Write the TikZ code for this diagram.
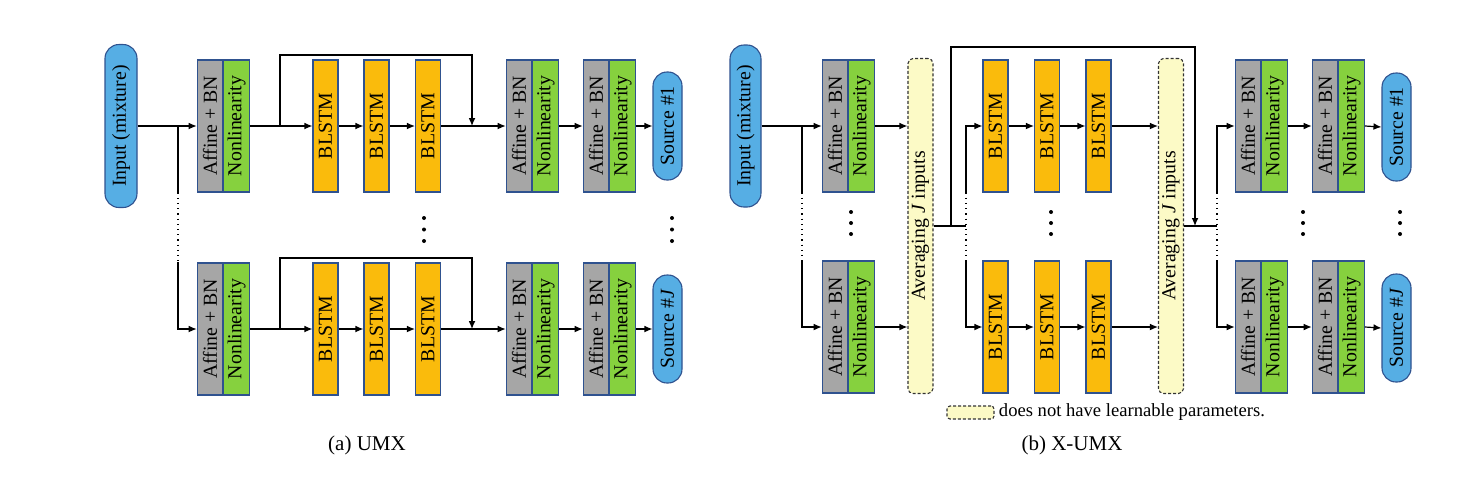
\documentclass[tikz,border=0pt]{standalone}
\usepackage{fontspec}
\setmainfont{Liberation Serif}
\usepackage{graphicx}
\usepackage{tikz}
\usetikzlibrary{arrows.meta,positioning}

\definecolor{pill}{RGB}{86,174,228}
\definecolor{edge}{RGB}{47,82,143}
\definecolor{affgray}{RGB}{166,166,166}
\definecolor{nongreen}{RGB}{134,209,62}
\definecolor{lstmgold}{RGB}{250,187,12}
\definecolor{avgfill}{RGB}{252,250,198}

\begin{document}
\begin{tikzpicture}[x=0.5pt,y=-0.5pt,
    >={Latex[length=4pt,width=3.4pt]},
    every node/.style={font=\fontsize{9.9}{11}\selectfont, inner sep=0pt},
    conn/.style={line width=0.6pt},
    blk/.style={draw=edge, line width=0.55pt, minimum width=12.75pt, minimum height=66pt},
    affbox/.style={blk, fill=affgray},
    nonbox/.style={blk, fill=nongreen},
    lstmbox/.style={blk, fill=lstmgold, minimum width=12.5pt},
    pillbox/.style={draw=edge, fill=pill, line width=0.55pt, rounded corners=7pt},
    avgbox/.style={draw=black!80, line width=0.55pt, dash pattern=on 1.5pt off 1pt, fill=avgfill, rounded corners=2.5pt, minimum width=12.5pt, minimum height=167.5pt}]
  \useasboundingbox (0,0) rectangle (1470,477);

  % (a) UMX
  \node[pillbox, minimum width=16pt, minimum height=81.5pt] (mixA) at (121,126) {\rotatebox{90}{Input (mixture)}};
  \coordinate (jA) at (178,126);
  \foreach \r/\y/\s in {1/126/1, 2/329/\textit{J}}
  {
    \node[affbox] (affA\r) at (210,\y) {\rotatebox{90}{Affine + BN}};
    \node[nonbox, anchor=west] (nonA\r) at (affA\r.east) {\rotatebox{90}{Nonlinearity}};
    \foreach \i/\x in {1/325.5, 2/376.5, 3/428}
      \node[lstmbox] (lstmA\r\i) at (\x,\y) {\rotatebox{90}{BLSTM}};
    \node[affbox] (aff2A\r) at (519,\y) {\rotatebox{90}{Affine + BN}};
    \node[nonbox, anchor=west] (non2A\r) at (aff2A\r.east) {\rotatebox{90}{Nonlinearity}};
    \node[affbox] (aff3A\r) at (596,\y) {\rotatebox{90}{Affine + BN}};
    \node[nonbox, anchor=west] (non3A\r) at (aff3A\r.east) {\rotatebox{90}{Nonlinearity}};
    \node[pillbox, minimum width=14.5pt, minimum height=54pt] (srcA\r) at (667.5,\y) {\rotatebox{90}{Source \#\s}};
    \coordinate (skA\r) at (280,\y);
    \coordinate (mgA\r) at (472,\y);

    \draw[conn,->] (nonA\r.east) -- (lstmA\r1.west);
    \draw[conn,->] (lstmA\r1.east) -- (lstmA\r2.west);
    \draw[conn,->] (lstmA\r2.east) -- (lstmA\r3.west);
    \draw[conn,->] (lstmA\r3.east) -- (aff2A\r.west);
    \draw[conn,->] (non2A\r.east) -- (aff3A\r.west);
    \draw[conn,->] (non3A\r.east) -- (srcA\r.west);
    \draw[conn,->] (skA\r) -- ++(0,-71) -| (mgA\r);
  }
  \draw[conn,->] (mixA.east) -- (affA1.west);
  \draw[conn] (jA) -- (jA |- affA1.south);
  \draw[conn,dotted] (jA |- affA1.south) -- (jA |- affA2.north);
  \draw[conn,->] (jA |- affA2.north) |- (affA2.west);
  \foreach \x in {424, 672}
    \foreach \d in {0,1,2}
      \fill (\x,218+11.5*\d) circle (1pt);
  \node[font=\fontsize{10.5}{12}\selectfont] (capA) at (367,445) {(a) UMX};

  % (b) X-UMX
  \node[pillbox, minimum width=15.5pt, minimum height=81pt] (mixB) at (745.5,126) {\rotatebox{90}{Input (mixture)}};
  \coordinate (jB) at (802,126);
  \node[avgbox] (avgB1) at (920.5,226) {\rotatebox{90}{Averaging \textit{J} inputs}};
  \node[avgbox] (avgB2) at (1171,226) {\rotatebox{90}{Averaging \textit{J} inputs}};
  \coordinate (jB2) at (966,126);
  \coordinate (jB3) at (1217,126);
  \coordinate (upB) at (951,226);
  \coordinate (dnB) at (1195,226);
  \foreach \r/\y/\s in {1/126/1, 2/327/\textit{J}}
  {
    \node[affbox] (affB\r) at (835,\y) {\rotatebox{90}{Affine + BN}};
    \node[nonbox, anchor=west] (nonB\r) at (affB\r.east) {\rotatebox{90}{Nonlinearity}};
    \foreach \i/\x in {1/995.5, 2/1047, 3/1098.5}
      \node[lstmbox] (lstmB\r\i) at (\x,\y) {\rotatebox{90}{BLSTM}};
    \node[affbox] (aff2B\r) at (1248,\y) {\rotatebox{90}{Affine + BN}};
    \node[nonbox, anchor=west] (non2B\r) at (aff2B\r.east) {\rotatebox{90}{Nonlinearity}};
    \node[affbox] (aff3B\r) at (1325,\y) {\rotatebox{90}{Affine + BN}};
    \node[nonbox, anchor=west] (non3B\r) at (aff3B\r.east) {\rotatebox{90}{Nonlinearity}};
    \node[pillbox, minimum width=14.5pt, minimum height=54pt] (srcB\r) at (1396.5,\y+1) {\rotatebox{90}{Source \#\s}};

    \draw[conn,->] (nonB\r.east) -- (nonB\r.east -| avgB1.west);
    \draw[conn,->] (lstmB\r1.east) -- (lstmB\r2.west);
    \draw[conn,->] (lstmB\r2.east) -- (lstmB\r3.west);
    \draw[conn,->] (lstmB\r3.east) -- (lstmB\r3.east -| avgB2.west);
    \draw[conn,->] (non2B\r.east) -- (aff3B\r.west);
    \draw[conn,->] (non3B\r.east) -- (srcB\r.west);
  }
  \draw[conn,->] (mixB.east) -- (affB1.west);
  \draw[conn] (jB) -- (jB |- affB1.south);
  \draw[conn,dotted] (jB |- affB1.south) -- (jB |- affB2.north);
  \draw[conn,->] (jB |- affB2.north) |- (affB2.west);

  \draw[conn] (avgB1.east) -- (jB2 |- avgB1.east);
  \draw[conn,->] (jB2 |- lstmB11.south) |- (lstmB11.west);
  \draw[conn,dotted] (jB2 |- lstmB11.south) -- (jB2 |- lstmB21.north);
  \draw[conn,->] (jB2 |- lstmB21.north) |- (lstmB21.west);
  \draw[conn,->] (upB) -- ++(0,-179) -| (dnB);

  \draw[conn] (avgB2.east) -- (jB3 |- avgB2.east);
  \draw[conn,->] (jB3 |- aff2B1.south) |- (aff2B1.west);
  \draw[conn,dotted] (jB3 |- aff2B1.south) -- (jB3 |- aff2B2.north);
  \draw[conn,->] (jB3 |- aff2B2.north) |- (aff2B2.west);

  \foreach \x in {851, 1051, 1303, 1400}
    \foreach \d in {0,1,2}
      \fill (\x,212+11*\d) circle (1pt);
  \node[avgbox, minimum width=23.5pt, minimum height=6.5pt, rounded corners=1.5pt] (key) at (970.5,412.5) {};
  \node[right=2pt of key, font=\fontsize{9.3}{11}\selectfont] (keytxt) {does not have learnable parameters.};
  \node[font=\fontsize{10.5}{12}\selectfont] (capB) at (1072,445) {(b) X-UMX};
\end{tikzpicture}
\end{document}
